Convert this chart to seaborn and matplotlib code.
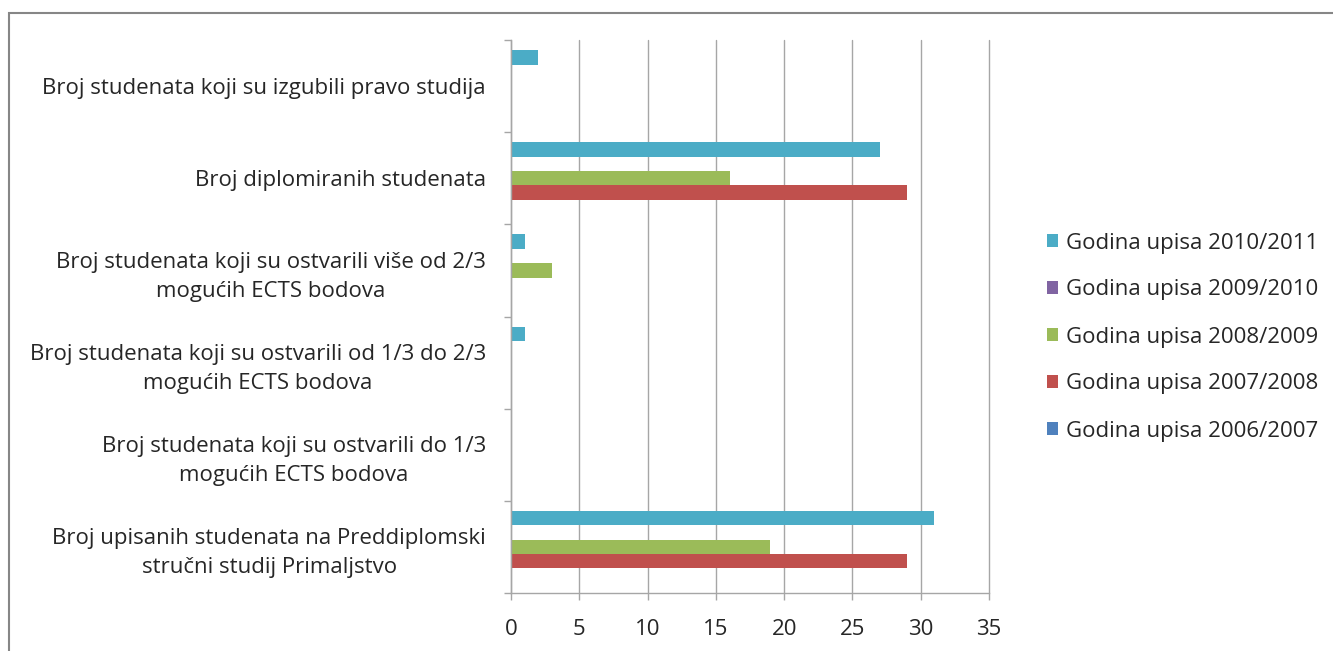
import numpy as np
import pandas as pd
import matplotlib
matplotlib.use("Agg")
import matplotlib.pyplot as plt
import seaborn as sns
from matplotlib.patches import Rectangle
from matplotlib.ticker import MultipleLocator, FixedLocator

# categories from top to bottom
categories = [
    "Broj studenata koji su izgubili pravo studija",
    "Broj diplomiranih studenata",
    "Broj studenata koji su ostvarili više od 2/3\nmogućih ECTS bodova",
    "Broj studenata koji su ostvarili od 1/3 do 2/3\nmogućih ECTS bodova",
    "Broj studenata koji su ostvarili do 1/3\nmogućih ECTS bodova",
    "Broj upisanih studenata na Preddiplomski\nstručni studij Primaljstvo",
]
years = [
    "Godina upisa 2010/2011",
    "Godina upisa 2009/2010",
    "Godina upisa 2008/2009",
    "Godina upisa 2007/2008",
    "Godina upisa 2006/2007",
]
v_2010_2011 = [2, 27, 1, 1, 0, 31]
v_2009_2010 = [0, 0, 0, 0, 0, 0]
v_2008_2009 = [0, 16, 3, 0, 0, 19]
v_2007_2008 = [0, 29, 0, 0, 0, 29]
v_2006_2007 = [0, 0, 0, 0, 0, 0]
colors = ["#4BACC6", "#8064A2", "#9BBB59", "#C0504D", "#4F81BD"]

values = [v_2010_2011, v_2009_2010, v_2008_2009, v_2007_2008, v_2006_2007]
rows = []
for year, vals in zip(years, values):
    for cat, v in zip(categories, vals):
        rows.append({"category": cat, "year": year, "value": v})
df = pd.DataFrame(rows)

sns.set_style("white")
plt.rcParams["font.family"] = ["Open Sans", "DejaVu Sans"]
text_color = "#262626"
line_color = "#a6a6a6"
fs = 16

fig = plt.figure(figsize=(13.33, 6.51), dpi=100)
ax = fig.add_axes([511 / 1333, 1 - 593 / 651, 478 / 1333, 553 / 651])

sns.barplot(data=df, x="value", y="category", hue="year", order=categories,
            hue_order=years, palette=colors, orient="h", width=0.78,
            saturation=1, linewidth=0, errorbar=None, ax=ax)

ax.set_xlim(0, 35)
ax.set_ylim(5.5, -0.5)
ax.xaxis.set_major_locator(MultipleLocator(5))
ax.set_xlabel("")
ax.set_ylabel("")
ax.grid(True, axis="x", color=line_color, linewidth=1)
ax.set_axisbelow(True)
for line in ax.get_xgridlines():
    line.set_clip_on(False)
for side in ["top", "right"]:
    ax.spines[side].set_visible(False)
for side in ["left", "bottom"]:
    ax.spines[side].set_color(line_color)
    ax.spines[side].set_linewidth(1)

ax.yaxis.set_minor_locator(FixedLocator(np.arange(-0.5, 6, 1)))
ax.tick_params(axis="y", which="major", length=0, pad=18, labelsize=fs,
               labelcolor=text_color)
ax.tick_params(axis="y", which="minor", length=5, color=line_color, width=1,
               left=True)
ax.tick_params(axis="x", length=5, color=line_color, width=1, bottom=True,
               pad=14, labelsize=fs, labelcolor=text_color)
for lab in ax.get_yticklabels():
    lab.set_multialignment("center")
    lab.set_linespacing(1.5)

handles, labels = ax.get_legend_handles_labels()
ax.legend_.remove()
fig.legend(handles, labels, loc="center left",
           bbox_to_anchor=(1027 / 1333, 1 - 337 / 651), frameon=False,
           fontsize=fs, labelcolor=text_color, handlelength=0.5,
           handleheight=0.5, handletextpad=0.35, labelspacing=1.17)

# outer chart border
fig.add_artist(Rectangle((9 / 1333, -0.1), 1.2, 1.1 - 13 / 651,
                         transform=fig.transFigure, fill=False,
                         edgecolor="#868686", linewidth=1.5))

fig.savefig("out.png", dpi=100)
plt.close(fig)
